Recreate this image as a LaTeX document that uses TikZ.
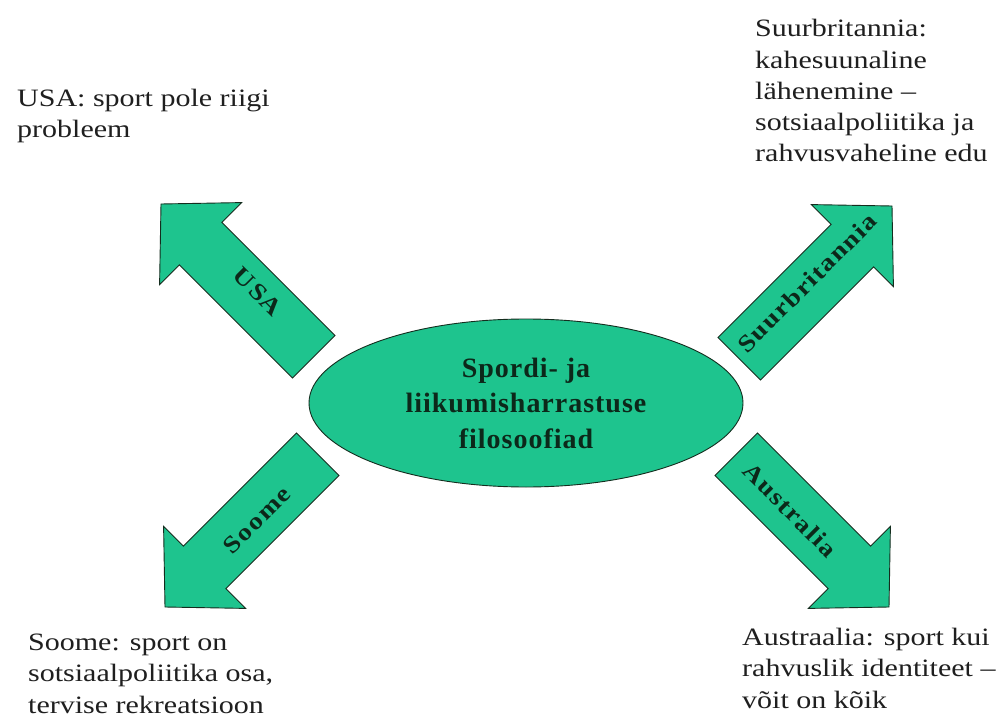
\documentclass[tikz,border=0pt]{standalone}
\usepackage{fontspec}
\usetikzlibrary{shapes.geometric}
\setmainfont{Liberation Serif}
\newfontfamily\bodyfont{Liberation Serif}[FakeStretch=1.2,Ligatures=TeX]
\newfontfamily\labfont{Liberation Serif}[FakeStretch=1.15,LetterSpace=6]
\newfontfamily\centfont{Liberation Serif}[LetterSpace=3.5]
\definecolor{sgreen}{RGB}{30,196,142}
\definecolor{sline}{RGB}{20,45,30}
\definecolor{stext}{RGB}{12,40,26}
\tikzset{
  arrowshape/.style={fill=sgreen, draw=sline, line width=0.9pt, line join=miter},
  lab/.style={font=\labfont\bfseries\fontsize{24}{28}\selectfont, text=stext, inner sep=0pt},
  body/.style={font=\bodyfont\fontsize{25}{31.3}\selectfont, text=black!88, align=left, inner sep=0pt, anchor=base west},
  centre/.style={ellipse, fill=sgreen, draw=sline, line width=0.9pt, minimum width=434pt, minimum height=168pt, inner sep=0pt, align=center, font=\centfont\bfseries\fontsize{28}{35.5}\selectfont, text=stext}
}
\newcommand\blockarrow[2]{%
  \begin{scope}[shift={#1}, rotate=#2]
    \draw[arrowshape] (0,0) -- (-56pt,58pt) -- (-56pt,30pt) -- (-216pt,30pt)
      -- (-216pt,-30pt) -- (-56pt,-30pt) -- (-56pt,-58pt) -- cycle;
  \end{scope}}
\begin{document}
\begin{tikzpicture}[x=1pt,y=-1pt]
  \useasboundingbox[fill=white] (0,0) rectangle (1006,727);
  % block arrows
  \blockarrow{(161,204)}{135}
  \blockarrow{(892,206)}{45}
  \blockarrow{(165,607)}{225}
  \blockarrow{(889,607)}{-45}
  % arrow labels
  \node[lab, rotate=-45] (lusa) at (258,292) {USA};
  \node[lab, rotate=45] (lgb) at (807,283) {Suurbritannia};
  \node[lab, rotate=45] (lfi) at (257,520) {Soome};
  \node[lab, rotate=-45] (lau) at (790,510) {Australia};
  % centre ellipse
  \node[centre] (c) at (526,403) {Spordi- ja\\liikumisharrastuse\\filosoofiad};
  % texts (anchored at the baseline of their last line)
  \node[body] (tusa) at (17,138) {USA: sport pole riigi\\probleem};
  \node[body] (tgb) at (755,162) {Suurbritannia:\\kahesuunaline\\lähenemine –\\sotsiaalpoliitika ja\\rahvusvaheline edu};
  \node[body] (tfi) at (28,713) {Soome: sport on\\sotsiaalpoliitika osa,\\tervise rekreatsioon};
  \node[body] (tau) at (742,708) {Austraalia: sport kui\\rahvuslik identiteet –\\võit on kõik};
\end{tikzpicture}
\end{document}
